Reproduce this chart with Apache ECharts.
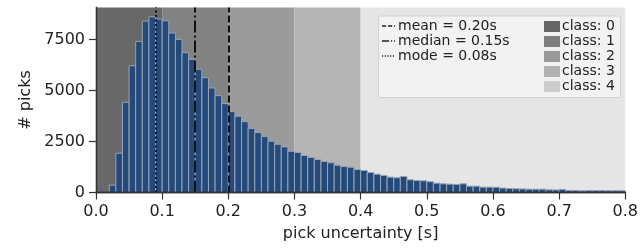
<!DOCTYPE html>
<html><head><meta charset="utf-8">
<script src="https://cdn.jsdelivr.net/npm/echarts@6/dist/echarts.min.js"></script>
<style>html,body{margin:0;padding:0;background:#fff}#c{width:641px;height:248px}</style>
</head><body><div id="c"></div>
<script>
// ---- data ----
const binLefts = [0.02,0.03,0.04,0.05,0.06,0.07,0.08,0.09,0.10,0.11,0.12,0.13,0.14,0.15,0.16,0.17,0.18,0.19,
  0.20,0.21,0.22,0.23,0.24,0.25,0.26,0.27,0.28,0.29,0.30,0.31,0.32,0.33,0.34,0.35,0.36,0.37,0.38,0.39,
  0.40,0.41,0.42,0.43,0.44,0.45,0.46,0.47,0.48,0.49,0.50,0.51,0.52,0.53,0.54,0.55,0.56,0.57,0.58,0.59,
  0.60,0.61,0.62,0.63,0.64,0.65,0.66,0.67,0.68,0.69,0.70,0.71,0.72,0.73,0.74,0.75,0.76,0.77,0.78,0.79];
const binWidth = 0.01;
const counts = [362,1926,4420,6209,7402,8395,8605,8493,8410,7808,7500,6845,6522,6033,5623,5119,4743,4351,
  3960,3735,3471,3129,2934,2738,2513,2366,2234,2020,1957,1811,1713,1615,1517,1452,1338,1273,1240,1126,
  1077,979,898,833,751,719,784,621,588,572,530,458,425,409,395,425,312,310,262,262,
  255,215,200,180,175,165,160,165,130,125,150,100,95,80,100,95,95,90,85,85];
const classEdges = [0, 0.1, 0.2, 0.3, 0.4, 0.8];
const classNames = ['class: 0','class: 1','class: 2','class: 3','class: 4'];
const statLabels = ['mean = 0.20s','median = 0.15s','mode = 0.08s'];
const statValues = [0.2, 0.1535, 0.085];
const xTicks = [0,0.1,0.2,0.3,0.4,0.5,0.6,0.7,0.8];
const yTicks = [0,2500,5000,7500];
const yMax = 9060;

// ---- styles ----
const FONT = 'DejaVu Sans';
const bandColors = ['#686868','#828282','#9b9b9b','#b4b4b4','#e5e5e5'];
const patchColors = ['#666666','#7f7f7f','#999999','#b2b2b2','#cccccc'];
const statDash = [[7,3],[12,3,2,3],[2,2.5]];
const axisColor = '#333';

const chart = echarts.init(document.getElementById('c'), null, {renderer:'canvas'});

const bandData = classEdges.slice(0,-1).map((e,i)=>[e, classEdges[i+1], i]);
const barData = binLefts.map((l,i)=>[l, l+binWidth, counts[i]]);

const legendGraphics = [];
legendGraphics.push({type:'rect', shape:{x:378.5,y:16,width:242,height:81.5,r:2},
  style:{fill:'#f2f2f2',stroke:'#d2d2d2',lineWidth:1}, z:100});
statLabels.forEach((t,i)=>{
  const y = 26 + i*15;
  legendGraphics.push({type:'line', shape:{x1:382,y1:y,x2:395,y2:y},
    style:{stroke:'#222',lineWidth:1.3,lineDash:statDash[i].map(v=>v*0.6)}, z:101});
  legendGraphics.push({type:'text', x:398, y:y,
    style:{text:t, font:'14px "'+FONT+'"', fill:'#222', verticalAlign:'middle', align:'left'}, z:101});
});
classNames.forEach((t,i)=>{
  const y = 26.5 + i*15;
  legendGraphics.push({type:'rect', shape:{x:544,y:y-5.5,width:16,height:11},
    style:{fill:patchColors[i]}, z:101});
  legendGraphics.push({type:'text', x:562, y:y,
    style:{text:t, font:'14px "'+FONT+'"', fill:'#222', verticalAlign:'middle', align:'left'}, z:101});
});

const option = {
  animation:false,
  backgroundColor:'#fff',
  textStyle:{fontFamily:FONT},
  grid:{left:96, right:13, top:7.5, bottom:55.5, containLabel:false},
  xAxis:[{
    type:'value', min:0, max:0.8, interval:0.1, z:10,
    name:'pick uncertainty [s]', nameLocation:'middle', nameGap:33,
    nameTextStyle:{fontSize:16, color:'#222', fontFamily:FONT},
    axisLine:{show:true, lineStyle:{color:axisColor, width:1.3}},
    axisTick:{show:true, length:7, customValues:xTicks, lineStyle:{color:axisColor, width:1.2}},
    axisLabel:{fontSize:16, color:'#222', margin:11, fontFamily:FONT, customValues:xTicks, formatter:v=>Number(v).toFixed(1)},
    splitLine:{show:false}
  },{
    type:'value', min:0, max:0.8, position:'top', z:10,
    axisLine:{show:true, lineStyle:{color:axisColor, width:1.3}},
    axisTick:{show:false}, axisLabel:{show:false}, splitLine:{show:false}
  }],
  yAxis:[{
    type:'value', min:0, max:yMax, z:10,
    name:'# picks', nameLocation:'middle', nameGap:62,
    nameTextStyle:{fontSize:16, color:'#222', fontFamily:FONT},
    axisLine:{show:true, lineStyle:{color:axisColor, width:1.3}},
    axisTick:{show:true, length:7, customValues:yTicks, lineStyle:{color:axisColor, width:1.2}},
    axisLabel:{fontSize:16, color:'#222', margin:11, fontFamily:FONT, customValues:yTicks, formatter:v=>String(v)},
    splitLine:{show:false}
  },{
    type:'value', min:0, max:yMax, position:'right', z:10,
    axisLine:{show:true, lineStyle:{color:axisColor, width:1.3}},
    axisTick:{show:false}, axisLabel:{show:false}, splitLine:{show:false}
  }],
  series:[{
    type:'custom', z:1, silent:true, data:bandData,
    renderItem:(params, api)=>{
      const cs = params.coordSys;
      const p0 = api.coord([api.value(0), 0]);
      const p1 = api.coord([api.value(1), 0]);
      return {type:'rect', shape:{x:p0[0], y:cs.y, width:p1[0]-p0[0], height:cs.height},
        style:{fill:bandColors[api.value(2)]}};
    }
  },{
    type:'custom', z:2, silent:true, data:barData, clip:true,
    renderItem:(params, api)=>{
      const p0 = api.coord([api.value(0), 0]);
      const p1 = api.coord([api.value(1), api.value(2)]);
      return {type:'rect', shape:{x:p0[0], y:p1[1], width:p1[0]-p0[0], height:p0[1]-p1[1]},
        style:{fill:'#234a7b', stroke:'#98a4b6', lineWidth:1}};
    },
    markLine:{
      silent:true, symbol:['none','none'], label:{show:false}, z:5,
      data: statValues.map((v,i)=>({xAxis:v, lineStyle:{type:statDash[i], color:'#111', width:2, opacity:1}}))
    }
  }],
  graphic: legendGraphics
};
chart.setOption(option);
</script></body></html>
